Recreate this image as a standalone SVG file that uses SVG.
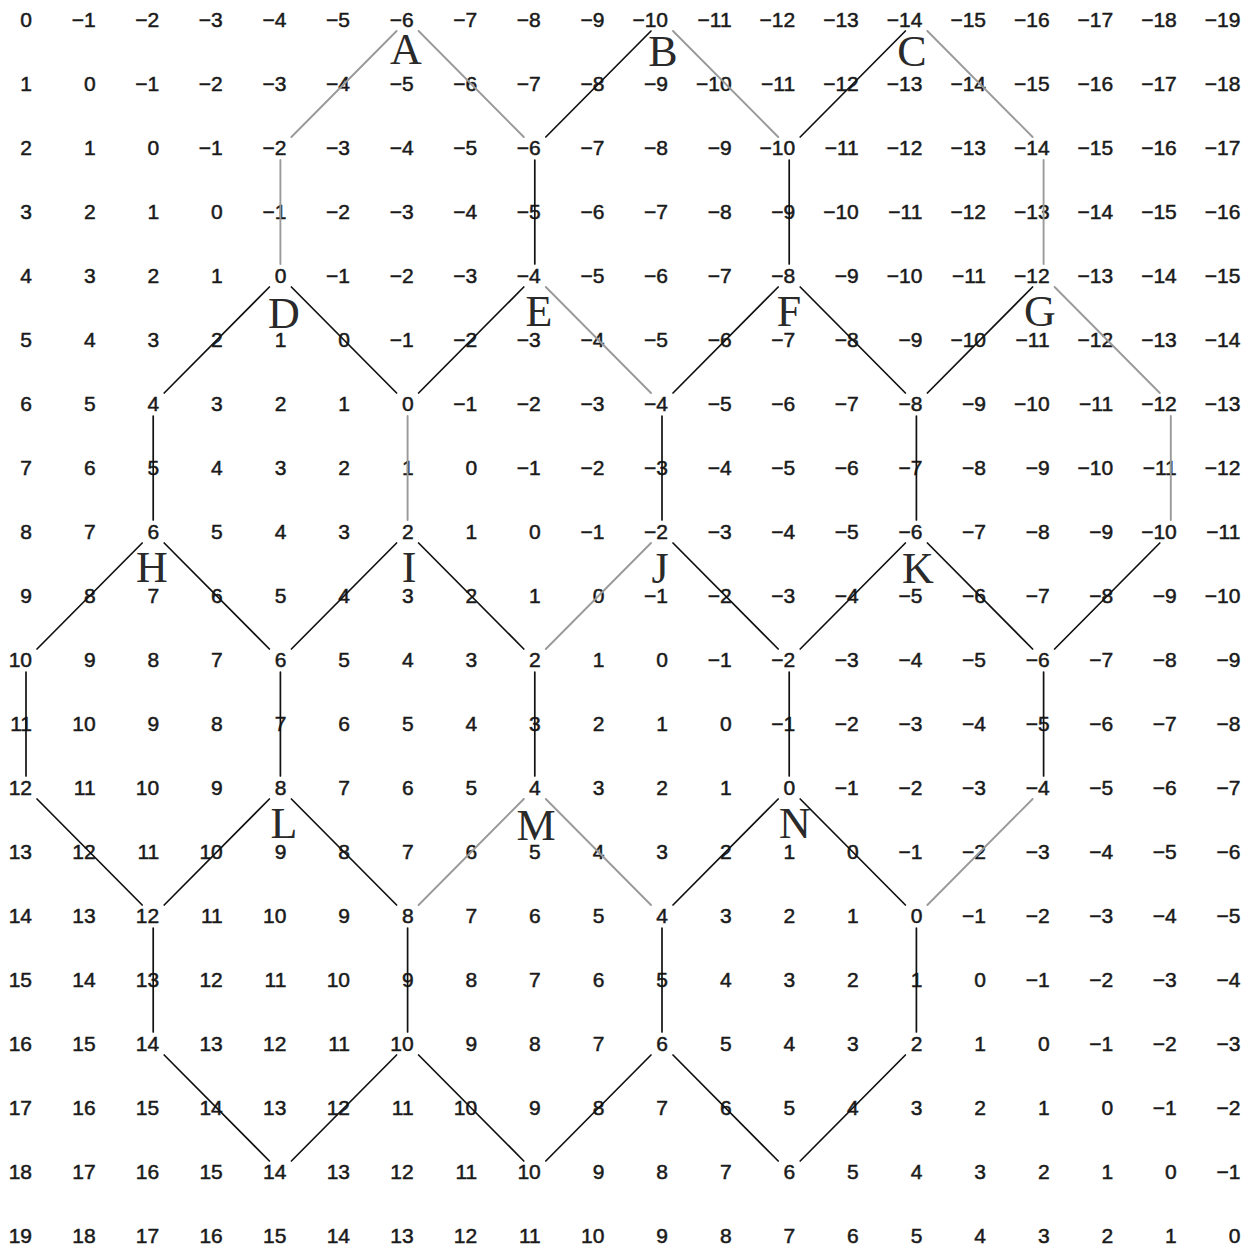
<svg xmlns="http://www.w3.org/2000/svg" width="1257" height="1248" viewBox="0 0 1257 1248">
<style>
.n{font-family:"Liberation Sans",Arial,sans-serif;font-size:21px;text-anchor:end;fill:#1a1a1a;stroke:#1a1a1a;stroke-width:0.5}
.lb{font-family:"Liberation Serif","Times New Roman",serif;font-size:44px;text-anchor:middle;fill:#2a2a2a}
.k line{stroke:#111;stroke-width:1.7;stroke-linecap:round}
.k line.g{stroke:#9a9a9a;stroke-width:1.9}
</style>
<rect width="1257" height="1248" fill="#fff"/>
<g id="grid">
<text class="n" y="27"><tspan x="32">0</tspan><tspan x="95.6">−1</tspan><tspan x="159.2">−2</tspan><tspan x="222.8">−3</tspan><tspan x="286.4">−4</tspan><tspan x="350">−5</tspan><tspan x="413.6">−6</tspan><tspan x="477.2">−7</tspan><tspan x="540.8">−8</tspan><tspan x="604.4">−9</tspan><tspan x="668">−10</tspan><tspan x="731.6">−11</tspan><tspan x="795.2">−12</tspan><tspan x="858.8">−13</tspan><tspan x="922.4">−14</tspan><tspan x="986">−15</tspan><tspan x="1049.6">−16</tspan><tspan x="1113.2">−17</tspan><tspan x="1176.8">−18</tspan><tspan x="1240.4">−19</tspan></text>
<text class="n" y="91"><tspan x="32">1</tspan><tspan x="95.6">0</tspan><tspan x="159.2">−1</tspan><tspan x="222.8">−2</tspan><tspan x="286.4">−3</tspan><tspan x="350">−4</tspan><tspan x="413.6">−5</tspan><tspan x="477.2">−6</tspan><tspan x="540.8">−7</tspan><tspan x="604.4">−8</tspan><tspan x="668">−9</tspan><tspan x="731.6">−10</tspan><tspan x="795.2">−11</tspan><tspan x="858.8">−12</tspan><tspan x="922.4">−13</tspan><tspan x="986">−14</tspan><tspan x="1049.6">−15</tspan><tspan x="1113.2">−16</tspan><tspan x="1176.8">−17</tspan><tspan x="1240.4">−18</tspan></text>
<text class="n" y="155"><tspan x="32">2</tspan><tspan x="95.6">1</tspan><tspan x="159.2">0</tspan><tspan x="222.8">−1</tspan><tspan x="286.4">−2</tspan><tspan x="350">−3</tspan><tspan x="413.6">−4</tspan><tspan x="477.2">−5</tspan><tspan x="540.8">−6</tspan><tspan x="604.4">−7</tspan><tspan x="668">−8</tspan><tspan x="731.6">−9</tspan><tspan x="795.2">−10</tspan><tspan x="858.8">−11</tspan><tspan x="922.4">−12</tspan><tspan x="986">−13</tspan><tspan x="1049.6">−14</tspan><tspan x="1113.2">−15</tspan><tspan x="1176.8">−16</tspan><tspan x="1240.4">−17</tspan></text>
<text class="n" y="219"><tspan x="32">3</tspan><tspan x="95.6">2</tspan><tspan x="159.2">1</tspan><tspan x="222.8">0</tspan><tspan x="286.4">−1</tspan><tspan x="350">−2</tspan><tspan x="413.6">−3</tspan><tspan x="477.2">−4</tspan><tspan x="540.8">−5</tspan><tspan x="604.4">−6</tspan><tspan x="668">−7</tspan><tspan x="731.6">−8</tspan><tspan x="795.2">−9</tspan><tspan x="858.8">−10</tspan><tspan x="922.4">−11</tspan><tspan x="986">−12</tspan><tspan x="1049.6">−13</tspan><tspan x="1113.2">−14</tspan><tspan x="1176.8">−15</tspan><tspan x="1240.4">−16</tspan></text>
<text class="n" y="283"><tspan x="32">4</tspan><tspan x="95.6">3</tspan><tspan x="159.2">2</tspan><tspan x="222.8">1</tspan><tspan x="286.4">0</tspan><tspan x="350">−1</tspan><tspan x="413.6">−2</tspan><tspan x="477.2">−3</tspan><tspan x="540.8">−4</tspan><tspan x="604.4">−5</tspan><tspan x="668">−6</tspan><tspan x="731.6">−7</tspan><tspan x="795.2">−8</tspan><tspan x="858.8">−9</tspan><tspan x="922.4">−10</tspan><tspan x="986">−11</tspan><tspan x="1049.6">−12</tspan><tspan x="1113.2">−13</tspan><tspan x="1176.8">−14</tspan><tspan x="1240.4">−15</tspan></text>
<text class="n" y="347"><tspan x="32">5</tspan><tspan x="95.6">4</tspan><tspan x="159.2">3</tspan><tspan x="222.8">2</tspan><tspan x="286.4">1</tspan><tspan x="350">0</tspan><tspan x="413.6">−1</tspan><tspan x="477.2">−2</tspan><tspan x="540.8">−3</tspan><tspan x="604.4">−4</tspan><tspan x="668">−5</tspan><tspan x="731.6">−6</tspan><tspan x="795.2">−7</tspan><tspan x="858.8">−8</tspan><tspan x="922.4">−9</tspan><tspan x="986">−10</tspan><tspan x="1049.6">−11</tspan><tspan x="1113.2">−12</tspan><tspan x="1176.8">−13</tspan><tspan x="1240.4">−14</tspan></text>
<text class="n" y="411"><tspan x="32">6</tspan><tspan x="95.6">5</tspan><tspan x="159.2">4</tspan><tspan x="222.8">3</tspan><tspan x="286.4">2</tspan><tspan x="350">1</tspan><tspan x="413.6">0</tspan><tspan x="477.2">−1</tspan><tspan x="540.8">−2</tspan><tspan x="604.4">−3</tspan><tspan x="668">−4</tspan><tspan x="731.6">−5</tspan><tspan x="795.2">−6</tspan><tspan x="858.8">−7</tspan><tspan x="922.4">−8</tspan><tspan x="986">−9</tspan><tspan x="1049.6">−10</tspan><tspan x="1113.2">−11</tspan><tspan x="1176.8">−12</tspan><tspan x="1240.4">−13</tspan></text>
<text class="n" y="475"><tspan x="32">7</tspan><tspan x="95.6">6</tspan><tspan x="159.2">5</tspan><tspan x="222.8">4</tspan><tspan x="286.4">3</tspan><tspan x="350">2</tspan><tspan x="413.6">1</tspan><tspan x="477.2">0</tspan><tspan x="540.8">−1</tspan><tspan x="604.4">−2</tspan><tspan x="668">−3</tspan><tspan x="731.6">−4</tspan><tspan x="795.2">−5</tspan><tspan x="858.8">−6</tspan><tspan x="922.4">−7</tspan><tspan x="986">−8</tspan><tspan x="1049.6">−9</tspan><tspan x="1113.2">−10</tspan><tspan x="1176.8">−11</tspan><tspan x="1240.4">−12</tspan></text>
<text class="n" y="539"><tspan x="32">8</tspan><tspan x="95.6">7</tspan><tspan x="159.2">6</tspan><tspan x="222.8">5</tspan><tspan x="286.4">4</tspan><tspan x="350">3</tspan><tspan x="413.6">2</tspan><tspan x="477.2">1</tspan><tspan x="540.8">0</tspan><tspan x="604.4">−1</tspan><tspan x="668">−2</tspan><tspan x="731.6">−3</tspan><tspan x="795.2">−4</tspan><tspan x="858.8">−5</tspan><tspan x="922.4">−6</tspan><tspan x="986">−7</tspan><tspan x="1049.6">−8</tspan><tspan x="1113.2">−9</tspan><tspan x="1176.8">−10</tspan><tspan x="1240.4">−11</tspan></text>
<text class="n" y="603"><tspan x="32">9</tspan><tspan x="95.6">8</tspan><tspan x="159.2">7</tspan><tspan x="222.8">6</tspan><tspan x="286.4">5</tspan><tspan x="350">4</tspan><tspan x="413.6">3</tspan><tspan x="477.2">2</tspan><tspan x="540.8">1</tspan><tspan x="604.4">0</tspan><tspan x="668">−1</tspan><tspan x="731.6">−2</tspan><tspan x="795.2">−3</tspan><tspan x="858.8">−4</tspan><tspan x="922.4">−5</tspan><tspan x="986">−6</tspan><tspan x="1049.6">−7</tspan><tspan x="1113.2">−8</tspan><tspan x="1176.8">−9</tspan><tspan x="1240.4">−10</tspan></text>
<text class="n" y="667"><tspan x="32">10</tspan><tspan x="95.6">9</tspan><tspan x="159.2">8</tspan><tspan x="222.8">7</tspan><tspan x="286.4">6</tspan><tspan x="350">5</tspan><tspan x="413.6">4</tspan><tspan x="477.2">3</tspan><tspan x="540.8">2</tspan><tspan x="604.4">1</tspan><tspan x="668">0</tspan><tspan x="731.6">−1</tspan><tspan x="795.2">−2</tspan><tspan x="858.8">−3</tspan><tspan x="922.4">−4</tspan><tspan x="986">−5</tspan><tspan x="1049.6">−6</tspan><tspan x="1113.2">−7</tspan><tspan x="1176.8">−8</tspan><tspan x="1240.4">−9</tspan></text>
<text class="n" y="731"><tspan x="32">11</tspan><tspan x="95.6">10</tspan><tspan x="159.2">9</tspan><tspan x="222.8">8</tspan><tspan x="286.4">7</tspan><tspan x="350">6</tspan><tspan x="413.6">5</tspan><tspan x="477.2">4</tspan><tspan x="540.8">3</tspan><tspan x="604.4">2</tspan><tspan x="668">1</tspan><tspan x="731.6">0</tspan><tspan x="795.2">−1</tspan><tspan x="858.8">−2</tspan><tspan x="922.4">−3</tspan><tspan x="986">−4</tspan><tspan x="1049.6">−5</tspan><tspan x="1113.2">−6</tspan><tspan x="1176.8">−7</tspan><tspan x="1240.4">−8</tspan></text>
<text class="n" y="795"><tspan x="32">12</tspan><tspan x="95.6">11</tspan><tspan x="159.2">10</tspan><tspan x="222.8">9</tspan><tspan x="286.4">8</tspan><tspan x="350">7</tspan><tspan x="413.6">6</tspan><tspan x="477.2">5</tspan><tspan x="540.8">4</tspan><tspan x="604.4">3</tspan><tspan x="668">2</tspan><tspan x="731.6">1</tspan><tspan x="795.2">0</tspan><tspan x="858.8">−1</tspan><tspan x="922.4">−2</tspan><tspan x="986">−3</tspan><tspan x="1049.6">−4</tspan><tspan x="1113.2">−5</tspan><tspan x="1176.8">−6</tspan><tspan x="1240.4">−7</tspan></text>
<text class="n" y="859"><tspan x="32">13</tspan><tspan x="95.6">12</tspan><tspan x="159.2">11</tspan><tspan x="222.8">10</tspan><tspan x="286.4">9</tspan><tspan x="350">8</tspan><tspan x="413.6">7</tspan><tspan x="477.2">6</tspan><tspan x="540.8">5</tspan><tspan x="604.4">4</tspan><tspan x="668">3</tspan><tspan x="731.6">2</tspan><tspan x="795.2">1</tspan><tspan x="858.8">0</tspan><tspan x="922.4">−1</tspan><tspan x="986">−2</tspan><tspan x="1049.6">−3</tspan><tspan x="1113.2">−4</tspan><tspan x="1176.8">−5</tspan><tspan x="1240.4">−6</tspan></text>
<text class="n" y="923"><tspan x="32">14</tspan><tspan x="95.6">13</tspan><tspan x="159.2">12</tspan><tspan x="222.8">11</tspan><tspan x="286.4">10</tspan><tspan x="350">9</tspan><tspan x="413.6">8</tspan><tspan x="477.2">7</tspan><tspan x="540.8">6</tspan><tspan x="604.4">5</tspan><tspan x="668">4</tspan><tspan x="731.6">3</tspan><tspan x="795.2">2</tspan><tspan x="858.8">1</tspan><tspan x="922.4">0</tspan><tspan x="986">−1</tspan><tspan x="1049.6">−2</tspan><tspan x="1113.2">−3</tspan><tspan x="1176.8">−4</tspan><tspan x="1240.4">−5</tspan></text>
<text class="n" y="987"><tspan x="32">15</tspan><tspan x="95.6">14</tspan><tspan x="159.2">13</tspan><tspan x="222.8">12</tspan><tspan x="286.4">11</tspan><tspan x="350">10</tspan><tspan x="413.6">9</tspan><tspan x="477.2">8</tspan><tspan x="540.8">7</tspan><tspan x="604.4">6</tspan><tspan x="668">5</tspan><tspan x="731.6">4</tspan><tspan x="795.2">3</tspan><tspan x="858.8">2</tspan><tspan x="922.4">1</tspan><tspan x="986">0</tspan><tspan x="1049.6">−1</tspan><tspan x="1113.2">−2</tspan><tspan x="1176.8">−3</tspan><tspan x="1240.4">−4</tspan></text>
<text class="n" y="1051"><tspan x="32">16</tspan><tspan x="95.6">15</tspan><tspan x="159.2">14</tspan><tspan x="222.8">13</tspan><tspan x="286.4">12</tspan><tspan x="350">11</tspan><tspan x="413.6">10</tspan><tspan x="477.2">9</tspan><tspan x="540.8">8</tspan><tspan x="604.4">7</tspan><tspan x="668">6</tspan><tspan x="731.6">5</tspan><tspan x="795.2">4</tspan><tspan x="858.8">3</tspan><tspan x="922.4">2</tspan><tspan x="986">1</tspan><tspan x="1049.6">0</tspan><tspan x="1113.2">−1</tspan><tspan x="1176.8">−2</tspan><tspan x="1240.4">−3</tspan></text>
<text class="n" y="1115"><tspan x="32">17</tspan><tspan x="95.6">16</tspan><tspan x="159.2">15</tspan><tspan x="222.8">14</tspan><tspan x="286.4">13</tspan><tspan x="350">12</tspan><tspan x="413.6">11</tspan><tspan x="477.2">10</tspan><tspan x="540.8">9</tspan><tspan x="604.4">8</tspan><tspan x="668">7</tspan><tspan x="731.6">6</tspan><tspan x="795.2">5</tspan><tspan x="858.8">4</tspan><tspan x="922.4">3</tspan><tspan x="986">2</tspan><tspan x="1049.6">1</tspan><tspan x="1113.2">0</tspan><tspan x="1176.8">−1</tspan><tspan x="1240.4">−2</tspan></text>
<text class="n" y="1179"><tspan x="32">18</tspan><tspan x="95.6">17</tspan><tspan x="159.2">16</tspan><tspan x="222.8">15</tspan><tspan x="286.4">14</tspan><tspan x="350">13</tspan><tspan x="413.6">12</tspan><tspan x="477.2">11</tspan><tspan x="540.8">10</tspan><tspan x="604.4">9</tspan><tspan x="668">8</tspan><tspan x="731.6">7</tspan><tspan x="795.2">6</tspan><tspan x="858.8">5</tspan><tspan x="922.4">4</tspan><tspan x="986">3</tspan><tspan x="1049.6">2</tspan><tspan x="1113.2">1</tspan><tspan x="1176.8">0</tspan><tspan x="1240.4">−1</tspan></text>
<text class="n" y="1243"><tspan x="32">19</tspan><tspan x="95.6">18</tspan><tspan x="159.2">17</tspan><tspan x="222.8">16</tspan><tspan x="286.4">15</tspan><tspan x="350">14</tspan><tspan x="413.6">13</tspan><tspan x="477.2">12</tspan><tspan x="540.8">11</tspan><tspan x="604.4">10</tspan><tspan x="668">9</tspan><tspan x="731.6">8</tspan><tspan x="795.2">7</tspan><tspan x="858.8">6</tspan><tspan x="922.4">5</tspan><tspan x="986">4</tspan><tspan x="1049.6">3</tspan><tspan x="1113.2">2</tspan><tspan x="1176.8">1</tspan><tspan x="1240.4">0</tspan></text>
</g>
<g id="connectors" class="k">
<line class="g" x1="291.4" y1="137" x2="396.6" y2="31"/>
<line class="g" x1="418.6" y1="31" x2="523.8" y2="137"/>
<line x1="545.8" y1="137" x2="651" y2="31"/>
<line class="g" x1="673" y1="31" x2="778.2" y2="137"/>
<line x1="800.2" y1="137" x2="905.4" y2="31"/>
<line class="g" x1="927.4" y1="31" x2="1032.6" y2="137"/>
<line class="g" x1="280.4" y1="160" x2="280.4" y2="264"/>
<line x1="534.8" y1="160" x2="534.8" y2="264"/>
<line x1="789.2" y1="160" x2="789.2" y2="264"/>
<line class="g" x1="1043.6" y1="160" x2="1043.6" y2="264"/>
<line x1="164.2" y1="393" x2="269.4" y2="287"/>
<line x1="291.4" y1="287" x2="396.6" y2="393"/>
<line x1="418.6" y1="393" x2="523.8" y2="287"/>
<line class="g" x1="545.8" y1="287" x2="651" y2="393"/>
<line x1="673" y1="393" x2="778.2" y2="287"/>
<line x1="800.2" y1="287" x2="905.4" y2="393"/>
<line x1="927.4" y1="393" x2="1032.6" y2="287"/>
<line class="g" x1="1054.6" y1="287" x2="1159.8" y2="393"/>
<line x1="153.2" y1="416" x2="153.2" y2="520"/>
<line class="g" x1="407.6" y1="416" x2="407.6" y2="520"/>
<line x1="662" y1="416" x2="662" y2="520"/>
<line x1="916.4" y1="416" x2="916.4" y2="520"/>
<line class="g" x1="1170.8" y1="416" x2="1170.8" y2="520"/>
<line x1="37" y1="649" x2="142.2" y2="543"/>
<line x1="164.2" y1="543" x2="269.4" y2="649"/>
<line x1="291.4" y1="649" x2="396.6" y2="543"/>
<line x1="418.6" y1="543" x2="523.8" y2="649"/>
<line class="g" x1="545.8" y1="649" x2="651" y2="543"/>
<line x1="673" y1="543" x2="778.2" y2="649"/>
<line x1="800.2" y1="649" x2="905.4" y2="543"/>
<line x1="927.4" y1="543" x2="1032.6" y2="649"/>
<line x1="1054.6" y1="649" x2="1159.8" y2="543"/>
<line x1="26" y1="672" x2="26" y2="776"/>
<line x1="280.4" y1="672" x2="280.4" y2="776"/>
<line x1="534.8" y1="672" x2="534.8" y2="776"/>
<line x1="789.2" y1="672" x2="789.2" y2="776"/>
<line x1="1043.6" y1="672" x2="1043.6" y2="776"/>
<line x1="37" y1="799" x2="142.2" y2="905"/>
<line x1="164.2" y1="905" x2="269.4" y2="799"/>
<line x1="291.4" y1="799" x2="396.6" y2="905"/>
<line class="g" x1="418.6" y1="905" x2="523.8" y2="799"/>
<line class="g" x1="545.8" y1="799" x2="651" y2="905"/>
<line x1="673" y1="905" x2="778.2" y2="799"/>
<line x1="800.2" y1="799" x2="905.4" y2="905"/>
<line class="g" x1="927.4" y1="905" x2="1032.6" y2="799"/>
<line x1="153.2" y1="928" x2="153.2" y2="1032"/>
<line x1="407.6" y1="928" x2="407.6" y2="1032"/>
<line x1="662" y1="928" x2="662" y2="1032"/>
<line x1="916.4" y1="928" x2="916.4" y2="1032"/>
<line x1="164.2" y1="1055" x2="269.4" y2="1161"/>
<line x1="291.4" y1="1161" x2="396.6" y2="1055"/>
<line x1="418.6" y1="1055" x2="523.8" y2="1161"/>
<line x1="545.8" y1="1161" x2="651" y2="1055"/>
<line x1="673" y1="1055" x2="778.2" y2="1161"/>
<line x1="800.2" y1="1161" x2="905.4" y2="1055"/>
</g>
<g id="hex-A"><text class="lb" x="406" y="64">A</text></g>
<g id="hex-B"><text class="lb" x="663" y="66">B</text></g>
<g id="hex-C"><text class="lb" x="912" y="66">C</text></g>
<g id="hex-D"><text class="lb" x="284" y="328">D</text></g>
<g id="hex-E"><text class="lb" x="539" y="326">E</text></g>
<g id="hex-F"><text class="lb" x="789" y="326">F</text></g>
<g id="hex-G"><text class="lb" x="1040" y="326">G</text></g>
<g id="hex-H"><text class="lb" x="152" y="582">H</text></g>
<g id="hex-I"><text class="lb" x="409" y="582">I</text></g>
<g id="hex-J"><text class="lb" x="660" y="583">J</text></g>
<g id="hex-K"><text class="lb" x="918" y="583">K</text></g>
<g id="hex-L"><text class="lb" x="284" y="838">L</text></g>
<g id="hex-M"><text class="lb" x="536" y="840">M</text></g>
<g id="hex-N"><text class="lb" x="795" y="838">N</text></g>
</svg>
